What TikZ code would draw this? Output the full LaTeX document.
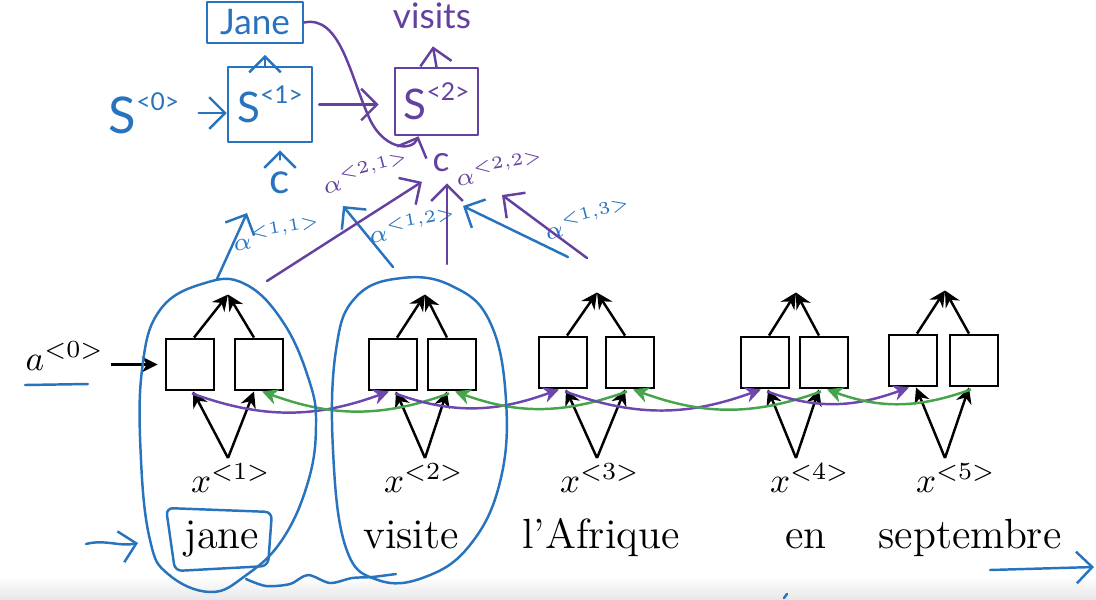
\documentclass[tikz,border=0pt]{standalone}
\usepackage{fontspec}
\usepackage{amsmath}
\newfontfamily\handfont{Lato}
\usetikzlibrary{arrows.meta}
\usetikzlibrary{calc}
\usetikzlibrary{positioning}

\definecolor{penblue}{RGB}{40,115,190}
\definecolor{penpurple}{RGB}{100,65,160}
\definecolor{fwdpurple}{RGB}{110,70,175}
\definecolor{bwdgreen}{RGB}{70,165,75}

\tikzset{
cell/.style = {draw, line width=0.8pt, minimum width=0.48cm,
               minimum height=0.51cm, inner sep=0pt},
feed/.style = {-{Stealth[length=4.5pt,width=4.5pt]}, line width=0.7pt},
fwd/.style = {feed, fwdpurple},
bwd/.style = {feed, bwdgreen},
pen/.style = {line width=0.7pt, line cap=round, line join=round},
penarrow/.style = {pen, -{Straight Barb[length=4.5pt,width=9pt]}},
penbox/.style = {draw, pen, inner sep=0pt}
}
\newcommand{\handsup}[1]{\raisebox{0.9ex}{\scriptsize #1}}
% one bidirectional step: name, left x, right x, box y, tip x, label x, word x, index, word
\newcommand{\rnnpair}[9]{%
  \node[cell] (#1-l) at (#2,#4) {};
  \node[cell] (#1-r) at (#3,#4) {};
  \coordinate (#1-t) at (#5,{#4-70});
  \coordinate (#1-s) at (#5,458);
  \node[anchor=base] (#1-x) at (#6,492) {$x^{<#8>}$};
  \node[anchor=base, font=\large] (#1-w) at (#7,548) {#9};
  \draw[feed] ($(#1-l.north)+(4,0)$) -- (#1-t);
  \draw[feed] ($(#1-r.north)+(-5,0)$) -- (#1-t);
  \draw[feed] (#1-s) -- ($(#1-l.south)+(3,0)$);
  \draw[feed] (#1-s) -- ($(#1-r.south)+(-5,0)$);
}

\begin{document}
\begin{tikzpicture}[x=0.01cm, y=-0.01cm]
\useasboundingbox (0,0) rectangle (1096,599);
\shade[top color=white, bottom color=black!9] (0,576) rectangle (1096,599);

% encoder
\rnnpair{p1}{190}{259}{364.5}{228}{231}{222}{1}{jane}
\rnnpair{p2}{393}{452}{364.5}{425}{424}{411}{2}{visite}
\rnnpair{p3}{563}{630}{362.5}{597}{600}{601}{3}{l'Afrique}
\rnnpair{p4}{765}{824}{362.5}{796}{810}{806}{4}{en}
\rnnpair{p5}{913}{974}{360.5}{945}{956}{970}{5}{septembre}
\foreach \pa/\pb in {p1/p2, p2/p3, p3/p4, p4/p5} {
  \draw[fwd] ($(\pa-l.south)+(2,2)$) to[out=-20, in=200] ($(\pb-l.south)+(-4,0)$);
  \draw[bwd] ($(\pb-r.south)+(-3,2)$) to[out=200, in=-20] ($(\pa-r.south)+(3,0)$);
}
\node[anchor=base west, inner sep=0pt] (a0) at (25,370) {$a^{<0>}$};
\draw[feed, shorten <=0.06cm, shorten >=0.07cm] (a0.east |- p1-l.west) -- (p1-l.west);

% hand notes, blue
\draw[pen, penblue] (25,385) -- (88,384);
\draw[pen, penblue] plot[smooth cycle, tension=0.7] coordinates {(205,283) (245,284) (283,322)
  (309,380) (316,425) (308,482) (282,540) (245,576) (210,592) (168,574) (150,540)
  (141,460) (142,370) (160,310)};
\draw[pen, penblue] plot[smooth cycle, tension=0.7] coordinates {(402,278) (452,286) (490,322)
  (506,400) (500,482) (470,545) (425,577) (378,580) (346,548) (333,450) (336,350) (356,297)};
\draw[pen, penblue] plot[smooth] coordinates {(246,579) (266,586) (290,584) (308,575)
  (330,583) (352,578) (372,577) (396,574)};
\draw[pen, penblue, rounded corners=2pt] (166,508) -- (272,512) -- (268,566) -- (175,571) -- cycle;
\coordinate (jin) at (86,544);
\coordinate (jat) at (138,543);
\draw[penarrow, penblue] (jin) .. controls (105,539) and (120,547) .. (jat);
\coordinate (rin) at (990,570);
\coordinate (rat) at (1094,567);
\draw[penarrow, penblue] (rin) -- (rat);
\draw[pen, penblue] (784,598) -- (787,594);

% decoder, step 1
\node[penbox, penblue, minimum width=0.96cm, minimum height=0.41cm,
      font=\handfont] (jbox) at (255,22.5) {Jane};
\node[penbox, penblue, minimum width=0.84cm, minimum height=0.75cm,
      font=\handfont\large] (s1) at (270,104.5) {S\handsup{<1>}};
\node[penblue, font=\handfont\Large] (s0) at (144,113) {S\handsup{<0>}};
\node[penblue, font=\handfont\large] (c1) at (280,183) {c};
\draw[penarrow, penblue, shorten >=3pt] (s1.north -| 265,0) -- (jbox.south -| 265,0);
\draw[penarrow, penblue, shorten <=2pt] (s0.east) -- (s0.east -| s1.west);
\draw[penarrow, penblue, shorten >=2pt] (c1.north) -- (c1.north |- s1.south);
\coordinate (u1) at (217,279);
\coordinate (u2) at (393,267);
\coordinate (u3) at (568,257);
\coordinate (h1) at (247,213);
\coordinate (h2) at (343,206);
\coordinate (h3) at (463,206);
\draw[penarrow, penblue] (u1) -- (h1);
\draw[penarrow, penblue] (u2) -- (h2);
\draw[penarrow, penblue] (u3) -- (h3);
\node[penblue, font=\scriptsize, rotate=10, inner sep=1pt] (l11) at (277,233) {$\alpha^{<1,1>}$};
\node[penblue, font=\scriptsize, rotate=10, inner sep=1pt] (l12) at (413,225) {$\alpha^{<1,2>}$};
\node[penblue, font=\scriptsize, rotate=15, inner sep=1pt] (l13) at (588,218) {$\alpha^{<1,3>}$};

% decoder, step 2
\node[penbox, penpurple, minimum width=0.83cm, minimum height=0.67cm,
      font=\handfont\large] (s2) at (436.5,101.5) {S\handsup{<2>}};
\node[penpurple, font=\handfont] (visits) at (432,16) {visits};
\node[penpurple, font=\handfont, inner sep=2pt] (c2) at (441,163) {c};
\draw[penarrow, penpurple, shorten <=0.06cm, shorten >=0.15cm] (s1.east) -- (s1.east -| s2.west);
\draw[penarrow, penpurple, shorten >=0.05cm] (s2.north) -- (visits.south);
\draw[penarrow, penpurple] (jbox.east) .. controls (340,15) and (350,75) .. (368,115)
  .. controls (382,150) and (412,152) .. ($(s2.south)+(-18,0)$);
\coordinate (v1) at (267,281);
\coordinate (v2) at (447,264);
\coordinate (v3) at (587,258);
\coordinate (k3) at (502,195);
\draw[penarrow, penpurple, shorten >=1pt] (v1) -- (c2.south west);
\draw[penarrow, penpurple, shorten >=1pt] (v2) -- (v2 |- c2.south);
\draw[penarrow, penpurple] (v3) -- (k3);
\node[penpurple, font=\scriptsize, rotate=15, inner sep=1pt] (l21) at (366,172) {$\alpha^{<2,1>}$};
\node[penpurple, font=\scriptsize, rotate=10, inner sep=1pt] (l22) at (500,168) {$\alpha^{<2,2>}$};
\end{tikzpicture}
\end{document}
